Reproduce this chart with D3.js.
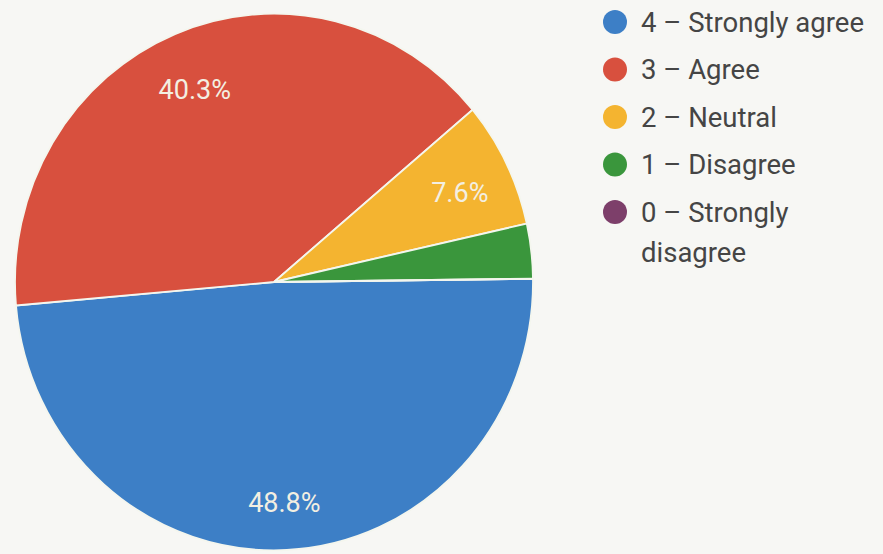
<!DOCTYPE html>
<html>
<head>
<meta charset="utf-8">
<script src="https://cdn.jsdelivr.net/npm/d3@7"></script>
<style>
  html, body { margin: 0; padding: 0; background: #f7f7f4; }
  svg { display: block; font-family: Roboto, "Noto Sans", sans-serif; }
</style>
</head>
<body>
<svg id="chart" width="883" height="554"></svg>
<script>
// answers, in legend order
var categories = ["4 – Strongly agree", "3 – Agree", "2 – Neutral", "1 – Disagree", "0 – Strongly disagree"];
var percents = [48.8, 40.3, 7.6, 3.3, 0];
var labelTexts = ["48.8%", "40.3%", "7.6%", "", ""];
var colors = ["#3d7fc6", "#d8503e", "#f4b430", "#3a963c", "#7d3f6a"];

var svg = d3.select("#chart");

// photo is slightly stretched vertically
var cx = 274, cy = 282, r = 259, yStretch = 1.036;
var startAngle = 89.3 * Math.PI / 180;

var pie = d3.pie()
  .sort(null)
  .value(function(d){ return d; })
  .startAngle(startAngle)
  .endAngle(startAngle + 2 * Math.PI);

var arcs = pie(percents);

var arc = d3.arc().innerRadius(0).outerRadius(r);
var labelArc = d3.arc().innerRadius(r * 0.8).outerRadius(r * 0.8);

var g = svg.append("g")
  .attr("transform", "translate(" + cx + "," + cy + ") scale(1," + yStretch + ")");

g.selectAll("path")
  .data(arcs)
  .enter().append("path")
  .attr("d", arc)
  .attr("fill", function(d, i){ return colors[i]; })
  .attr("stroke", "#f4f6ee")
  .attr("stroke-width", 1.8);

// slice labels (kept outside the stretched group)
var lg = svg.append("g").attr("transform", "translate(" + cx + "," + (cy + 6) + ")");
lg.selectAll("text")
  .data(arcs)
  .enter().append("text")
  .attr("x", function(d){ return labelArc.centroid(d)[0]; })
  .attr("y", function(d){ return labelArc.centroid(d)[1] * yStretch; })
  .attr("dy", "0.35em")
  .attr("text-anchor", "middle")
  .attr("fill", "#f3efe2")
  .style("font-size", "27px")
  .text(function(d, i){ return labelTexts[i]; });

// legend
var rowY = d3.scaleLinear().domain([0, 4]).range([22, 212]);
var legend = svg.append("g");
var item = legend.selectAll("g")
  .data(categories)
  .enter().append("g")
  .attr("transform", function(d, i){ return "translate(615," + rowY(i) + ")"; });

item.append("circle")
  .attr("r", 12)
  .attr("fill", function(d, i){ return colors[i]; });

item.append("text")
  .attr("x", 26)
  .attr("dy", "0.35em")
  .attr("fill", "#454545")
  .style("font-size", "27.5px")
  .each(function(d){
    var t = d3.select(this);
    if (d.indexOf("Strongly disagree") >= 0){
      t.append("tspan").attr("x", 26).text("0 – Strongly");
      t.append("tspan").attr("x", 26).attr("dy", "1.45em").text("disagree");
    } else {
      t.text(d);
    }
  });
</script>
</body>
</html>
